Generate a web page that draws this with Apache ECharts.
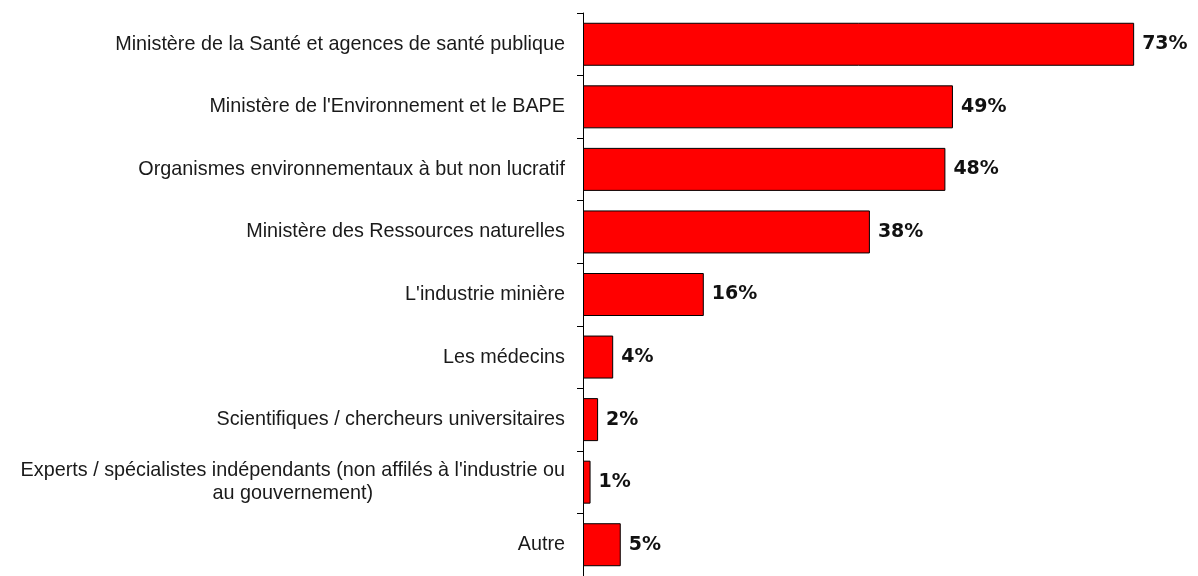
<!DOCTYPE html>
<html>
<head>
<meta charset="utf-8">
<script src="https://cdn.jsdelivr.net/npm/echarts@6/dist/echarts.min.js"></script>
<style>
html,body{margin:0;padding:0;background:#fff;}
#chart{width:1198px;height:576px;}
</style>
</head>
<body>
<div id="chart"></div>
<script>
const categories = [
  "Ministère de la Santé et agences de santé publique",
  "Ministère de l'Environnement et le BAPE",
  "Organismes environnementaux à but non lucratif",
  "Ministère des Ressources naturelles",
  "L'industrie minière",
  "Les médecins",
  "Scientifiques / chercheurs universitaires",
  "Experts / spécialistes indépendants (non affilés à l'industrie ou\nau gouvernement)",
  "Autre"
];
const values = [73, 49, 48, 38, 16, 4, 2, 1, 5];

const chart = echarts.init(document.getElementById('chart'));
chart.setOption({
  animation: false,
  backgroundColor: '#ffffff',
  grid: { left: 583, right: 11, top: 13, bottom: -3, containLabel: false },
  xAxis: {
    type: 'value', min: 0, max: 80,
    show: false
  },
  yAxis: {
    type: 'category',
    data: categories,
    inverse: true,
    axisLine: { show: true, lineStyle: { color: '#000', width: 1 } },
    axisTick: { show: true, length: 6, lineStyle: { color: '#000' } },
    axisLabel: {
      margin: 18,
      formatter: function (v) {
        return v.split('\n').map(s => '{a|' + s + '}').join('\n');
      },
      rich: {
        a: {
          fontFamily: 'Liberation Sans, Arial, sans-serif',
          fontSize: 19.8,
          color: '#1a1a1a',
          align: 'center',
          lineHeight: 23
        }
      }
    }
  },
  series: [{
    type: 'bar',
    data: values,
    barWidth: 43,
    itemStyle: { color: '#ff0000', borderColor: '#000', borderWidth: 1 },
    label: {
      show: true,
      position: 'right',
      distance: 8,
      formatter: '{c}%',
      fontFamily: 'DejaVu Sans, Verdana, sans-serif',
      fontWeight: 'bold',
      fontSize: 19,
      color: '#111'
    }
  }]
});
</script>
</body>
</html>
